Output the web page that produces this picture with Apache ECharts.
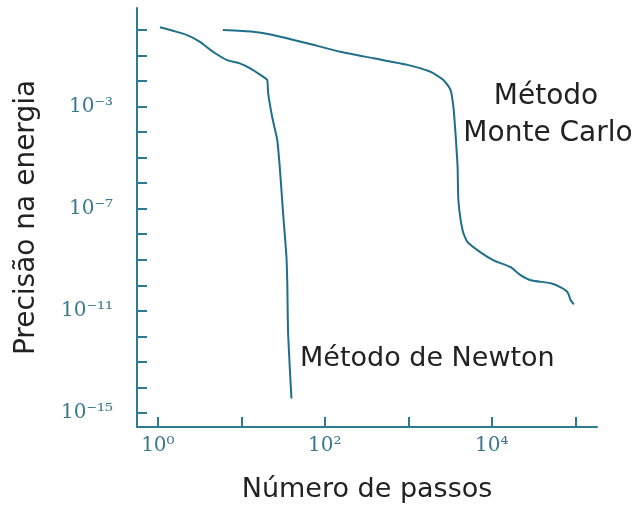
<!DOCTYPE html>
<html>
<head>
<meta charset="utf-8">
<script src="https://cdn.jsdelivr.net/npm/echarts@6/dist/echarts.min.js"></script>
<style>
html,body{margin:0;padding:0;background:#fff;}
#chart{width:634px;height:511px;}
</style>
</head>
<body>
<div id="chart"></div>
<script>
// Data (steps, energy precision)
const newtonSteps = [1.06, 1.51, 2.24, 3.16, 4.57, 6.76, 9.55, 12.6, 18.2, 20.4, 20.9, 23.4, 26.9, 29.2, 31.6, 34.7, 35.5, 36.3, 39.8];
const newtonPrecision = [1.28, 0.93, 0.63, 0.35, 0.14, 0.066, 0.049, 0.032, 0.0148, 0.011, 0.0034, 3.9e-4, 4.9e-5, 2.5e-6, 6.8e-8, 1.26e-9, 1.2e-10, 1.3e-12, 3.7e-15];

const mcSteps = [6.0, 13.8, 24, 61.7, 153, 381, 977, 1841, 2630, 3200, 3470, 3670, 3890, 3980, 4470, 5130, 7330, 10500, 16800, 22100, 29200, 51000, 67000, 81000, 88000, 96000];
const mcPrecision = [1.0, 0.86, 0.64, 0.30, 0.14, 0.078, 0.043, 0.023, 0.011, 0.0045, 9.5e-4, 9.1e-5, 4.3e-6, 2.1e-7, 1.4e-8, 4.9e-9, 1.95e-9, 9.5e-10, 5.1e-10, 2.5e-10, 1.58e-10, 1.2e-10, 8.3e-11, 5.3e-11, 2.6e-11, 1.8e-11];

// Tick exponents
const xTickExps = [0, 1, 2, 3, 4, 5];
const xLabelExps = [0, 2, 4];
const yTickExps = [0, -1, -2, -3, -4, -5, -6, -7, -8, -9, -10, -11, -12, -13, -14, -15];
const yLabelExps = [-3, -7, -11, -15];

const seriesNames = ['Método de Newton', 'Método Monte Carlo'];

const SUP = {'0':'⁰','1':'¹','2':'²','3':'³','4':'⁴','5':'⁵','6':'⁶','7':'⁷','8':'⁸','9':'⁹','-':'⁻'};
function pow10Label(v) {
  const e = Math.round(Math.log10(v));
  return '10' + String(e).split('').map(c => SUP[c]).join('');
}
const toVals = exps => exps.map(e => Math.pow(10, e));
const zip = (a, b) => a.map((v, i) => [v, b[i]]);

const axisColor = '#2f7a93';
const lineColor = '#1f6e8a';
const labelColor = '#3a7890';
const sansFont = '"DejaVu Sans", sans-serif';

const chart = echarts.init(document.getElementById('chart'));
chart.setOption({
  animation: false,
  backgroundColor: '#ffffff',
  grid: { left: 137, right: 37, top: 8, bottom: 84, containLabel: false },
  xAxis: {
    type: 'log', logBase: 10,
    min: Math.pow(10, -0.25), max: Math.pow(10, 5.26),
    name: 'Número de passos', nameLocation: 'middle', nameGap: 49,
    nameTextStyle: { fontFamily: sansFont, fontSize: 27, color: '#222' },
    axisLine: { show: true, lineStyle: { color: axisColor, width: 2 } },
    axisTick: { show: true, inside: true, length: 10, customValues: toVals(xTickExps), lineStyle: { color: axisColor, width: 2 } },
    axisLabel: { customValues: toVals(xLabelExps), formatter: pow10Label, margin: 9,
      fontFamily: '"DejaVu Serif", serif', fontSize: 20, color: labelColor },
    splitLine: { show: false }, minorTick: { show: false }
  },
  yAxis: {
    type: 'log', logBase: 10,
    min: Math.pow(10, -15.55), max: Math.pow(10, 0.86),
    name: 'Precisão na energia', nameLocation: 'middle', nameGap: 96, nameRotate: 90,
    nameTextStyle: { fontFamily: sansFont, fontSize: 28, color: '#222' },
    axisLine: { show: true, lineStyle: { color: axisColor, width: 2 } },
    axisTick: { show: true, inside: true, length: 10, customValues: toVals(yTickExps), lineStyle: { color: axisColor, width: 2 } },
    axisLabel: { customValues: toVals(yLabelExps), formatter: pow10Label, margin: 24,
      fontFamily: '"DejaVu Serif", serif', fontSize: 20, color: labelColor },
    splitLine: { show: false }, minorTick: { show: false }
  },
  series: [
    { name: seriesNames[0], type: 'line', data: zip(newtonSteps, newtonPrecision), showSymbol: false, smooth: 0.2,
      lineStyle: { color: lineColor, width: 2 } },
    { name: seriesNames[1], type: 'line', data: zip(mcSteps, mcPrecision), showSymbol: false, smooth: 0.2,
      lineStyle: { color: lineColor, width: 2 } }
  ],
  graphic: [
    { type: 'text', x: 546, y: 83, style: { text: 'Método', font: '28px ' + sansFont, fill: '#222', align: 'center' } },
    { type: 'text', x: 548, y: 120, style: { text: 'Monte Carlo', font: '28px ' + sansFont, fill: '#222', align: 'center' } },
    { type: 'text', x: 300, y: 345, style: { text: 'Método de Newton', font: '27px ' + sansFont, fill: '#222' } }
  ]
});
</script>
</body>
</html>
